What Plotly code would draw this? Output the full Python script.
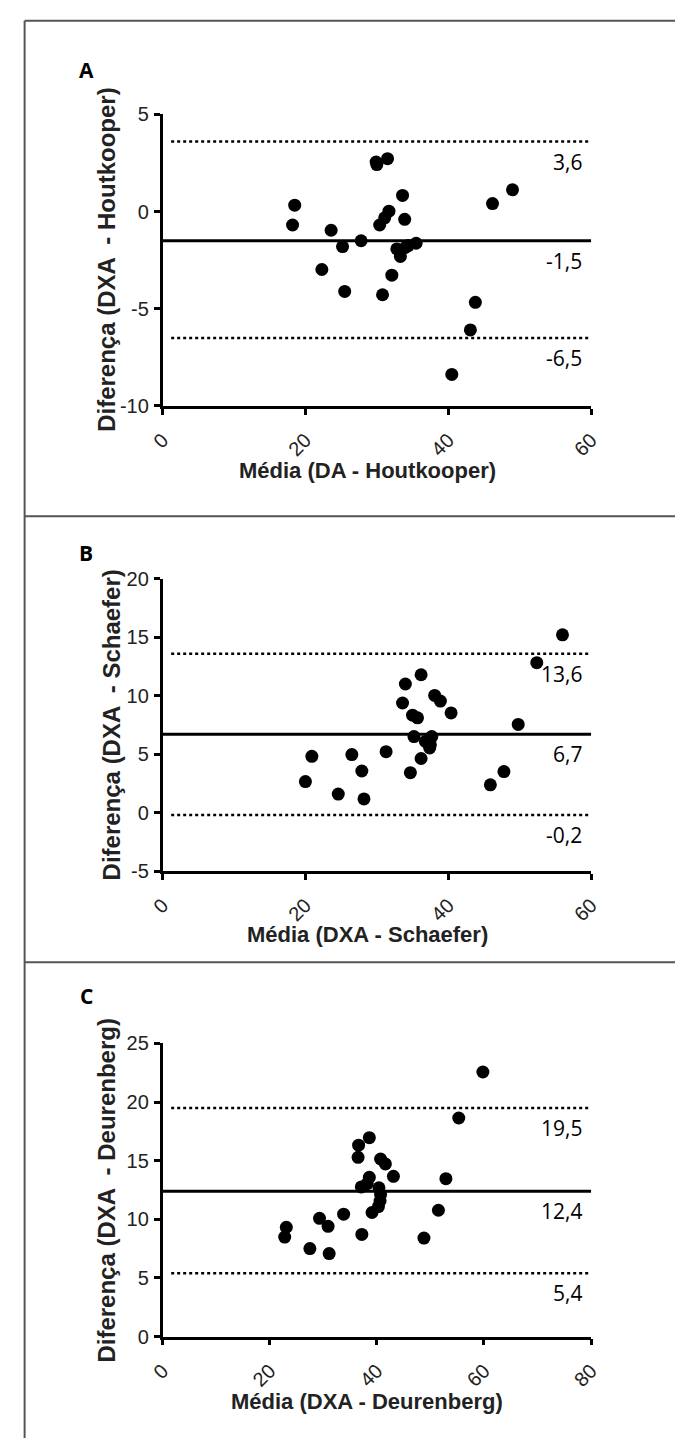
import plotly.graph_objects as go

W, H = 685, 1449

# ---- Panel A data (Média DA-Houtkooper vs Diferença DXA-Houtkooper)
a_x = [18.5, 18.2, 23.6, 25.2, 22.3, 25.5, 27.8, 29.9, 30.0, 31.5, 30.4, 31.1, 31.7,
       33.6, 33.9, 32.8, 33.3, 34.4, 35.5, 34.0, 32.1, 30.8, 40.5, 43.1, 43.8, 46.2, 49.0]
a_y = [0.33, -0.69, -0.96, -1.80, -2.98, -4.11, -1.50, 2.55, 2.42, 2.72, -0.69, -0.32, 0.02,
       0.83, -0.40, -1.92, -2.31, -1.75, -1.63, -1.85, -3.27, -4.28, -8.38, -6.09, -4.67, 0.41, 1.12]
a_lines = [3.6, -1.5, -6.5]
a_labels = ["3,6", "-1,5", "-6,5"]
a_xticks = [0, 20, 40, 60]
a_yticks = [-10, -5, 0, 5]

# ---- Panel B data
b_x = [20.0, 20.9, 24.6, 26.5, 27.9, 28.2, 31.3, 33.6, 34.0, 36.2, 34.7, 35.0, 35.7, 35.2,
       36.2, 36.8, 37.5, 37.7, 37.4, 38.1, 38.9, 40.4, 49.8, 45.9, 47.8, 52.4, 56.0]
b_y = [2.66, 4.82, 1.59, 4.97, 3.56, 1.17, 5.22, 9.38, 11.01, 11.80, 3.42, 8.34, 8.11, 6.51,
       4.63, 6.09, 5.81, 6.51, 5.53, 10.03, 9.55, 8.53, 7.55, 2.38, 3.51, 12.83, 15.22]
b_lines = [13.6, 6.7, -0.2]
b_labels = ["13,6", "6,7", "-0,2"]
b_xticks = [0, 20, 40, 60]
b_yticks = [-5, 0, 5, 10, 15, 20]

# ---- Panel C data
c_x = [59.8, 55.3, 38.6, 36.6, 36.5, 40.7, 41.6, 43.1, 52.9, 38.6, 37.1, 38.2, 40.4, 40.7,
       40.6, 40.3, 39.1, 33.8, 29.3, 30.9, 23.1, 22.8, 27.5, 31.1, 37.2, 48.8, 51.5]
c_y = [22.56, 18.64, 16.96, 16.32, 15.28, 15.14, 14.72, 13.66, 13.46, 13.58, 12.76, 13.04,
       12.68, 12.12, 11.56, 11.08, 10.58, 10.44, 10.08, 9.40, 9.32, 8.48, 7.50, 7.08, 8.71, 8.40, 10.77]
c_lines = [19.5, 12.4, 5.4]
c_labels = ["19,5", "12,4", "5,4"]
c_xticks = [0, 20, 40, 60, 80]
c_yticks = [0, 5, 10, 15, 20, 25]

panels = [
    dict(letter="A", x=a_x, y=a_y, lines=a_lines, labels=a_labels,
         xrange=[0, 60], xt=a_xticks, yrange=[-10, 5], yt=a_yticks,
         ydom=(105, 401), ytitle="Diferença (DXA  - Houtkooper)", xtitle="Média (DA - Houtkooper)",
         letter_y=60, ytitle_x=95, xtitle_y=467),
    dict(letter="B", x=b_x, y=b_y, lines=b_lines, labels=b_labels,
         xrange=[0, 60], xt=b_xticks, yrange=[-5, 20], yt=b_yticks,
         ydom=(576.7, 873.3), ytitle="Diferença (DXA  - Schaefer)", xtitle="Média (DXA - Schaefer)",
         letter_y=550, ytitle_x=102, xtitle_y=938),
    dict(letter="C", x=c_x, y=c_y, lines=c_lines, labels=c_labels,
         xrange=[0, 80], xt=c_xticks, yrange=[0, 25], yt=c_yticks,
         ydom=(1048.3, 1346), ytitle="Diferença (DXA  - Deurenberg)", xtitle="Média (DXA - Deurenberg)",
         letter_y=1000, ytitle_x=96, xtitle_y=1412),
]

fig = go.Figure()
x0px, x1px = 154, 598
tickfont = dict(family="Liberation Sans, Arial", size=20, color="#222")
shapes = []
annotations = []

for i, p in enumerate(panels):
    n = "" if i == 0 else str(i + 1)
    xa, ya = "x" + n, "y" + n
    fig.add_trace(go.Scatter(x=p["x"], y=p["y"], mode="markers", xaxis=xa, yaxis=ya,
                             marker=dict(size=13, color="black"), showlegend=False,
                             hoverinfo="skip"))
    top, bot = p["ydom"]
    fig.layout["xaxis" + n] = dict(
        domain=[x0px / W, x1px / W], anchor=ya, range=p["xrange"], tickvals=p["xt"],
        ticktext=[str(t) for t in p["xt"]],
        showline=True, linewidth=2.5, linecolor="black", ticks="outside", ticklen=6,
        tickwidth=2.5, tickcolor="black", showgrid=False, zeroline=False,
        tickangle=-45, tickfont=tickfont, ticklabelstandoff=6, fixedrange=True)
    fig.layout["yaxis" + n] = dict(
        domain=[1 - bot / H, 1 - top / H], anchor=xa, range=p["yrange"], tickvals=p["yt"],
        ticktext=[str(t) for t in p["yt"]],
        showline=True, linewidth=2.5, linecolor="black", ticks="outside", ticklen=6,
        tickwidth=2.5, tickcolor="black", showgrid=False, zeroline=False,
        tickfont=tickfont, ticklabelstandoff=1, fixedrange=True)
    for j, (v, lab) in enumerate(zip(p["lines"], p["labels"])):
        dotted = j != 1
        shapes.append(dict(type="line", xref=xa + " domain", yref=ya,
                           x0=0.02 if dotted else 0, x1=1, y0=v, y1=v,
                           line=dict(color="black", width=2.5 if dotted else 3,
                                     dash="dot" if dotted else "solid")))
        annotations.append(dict(xref="paper", yref=ya, x=591 / W, y=v, yshift=-20,
                                xanchor="right", yanchor="middle", showarrow=False, text=lab,
                                font=dict(family="Open Sans", size=21, color="black")))
    annotations.append(dict(xref="paper", yref="paper", x=75 / W, y=1 - p["letter_y"] / H,
                            xanchor="center", yanchor="middle", showarrow=False,
                            text="<b>%s</b>" % p["letter"],
                            font=dict(family="Open Sans", size=21, color="black")))
    annotations.append(dict(xref="paper", yref="paper", x=p["ytitle_x"] / W,
                            y=1 - (top + bot) / 2 / H, xanchor="center", yanchor="middle",
                            showarrow=False, textangle=-90, text="<b>%s</b>" % p["ytitle"],
                            font=dict(family="Liberation Sans, Arial", size=24, color="#222")))
    annotations.append(dict(xref="paper", yref="paper", x=366 / W, y=1 - p["xtitle_y"] / H,
                            xanchor="center", yanchor="middle", showarrow=False,
                            text="<b>%s</b>" % p["xtitle"],
                            font=dict(family="Liberation Sans, Arial", size=22, color="#222")))

# panel frame lines
frame = dict(color="#555", width=2)
shapes.append(dict(type="line", xref="paper", yref="paper", x0=11 / W, x1=11 / W,
                   y0=1 - 10 / H, y1=0, line=frame))
for yy in [10, 513, 966]:
    shapes.append(dict(type="line", xref="paper", yref="paper", x0=11 / W, x1=1,
                       y0=1 - yy / H, y1=1 - yy / H, line=frame))

fig.update_layout(width=W, height=H, margin=dict(l=0, r=0, t=0, b=0),
                  paper_bgcolor="white", plot_bgcolor="white",
                  shapes=shapes, annotations=annotations)

fig.write_html("out.html", config={"displayModeBar": False},
               post_script="document.body.style.margin='0';document.body.style.overflow='hidden';")
